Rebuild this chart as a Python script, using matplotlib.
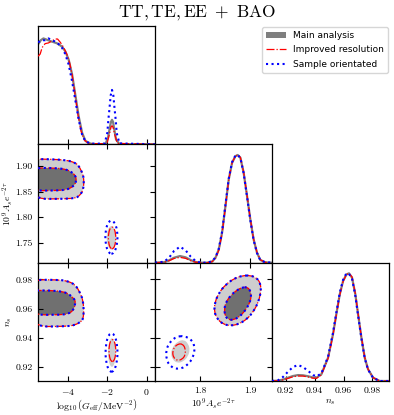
import matplotlib
matplotlib.use("Agg")
import matplotlib.pyplot as plt
from matplotlib.lines import Line2D
from matplotlib.patches import Patch, Ellipse, PathPatch
from matplotlib.path import Path

plt.rcParams['font.family'] = 'serif'
plt.rcParams['font.serif'] = ['cmr10']
plt.rcParams['mathtext.fontset'] = 'cm'
plt.rcParams['axes.formatter.use_mathtext'] = True

# ---------------- data ----------------
# 1D: log10(G_eff / MeV^-2)
g_grey_x = [-5.495, -5.357, -5.224, -5.051, -4.883, -4.541, -4.286, -4.117, -3.949, -3.776, -3.607,
            -3.439, -3.265, -3.097, -2.842, -2.5, -2.245, -2.077, -1.959, -1.857, -1.806, -1.755,
            -1.704, -1.653, -1.551, -1.398, -1.143, 0.42]
g_grey_y = [0.846, 0.88, 0.895, 0.884, 0.873, 0.854, 0.826, 0.785, 0.716, 0.592, 0.413,
            0.234, 0.096, 0.028, 0.006, 0.0, 0.002, 0.006, 0.055, 0.15, 0.19, 0.207,
            0.19, 0.138, 0.041, 0.006, 0.0, 0.0]
g_red_x = [-5.495, -5.39, -5.29, -5.14, -4.97, -4.80, -4.63, -4.51, -4.37, -4.2, -4.03, -3.9,
           -3.776, -3.64, -3.49, -3.32, -3.15, -2.93, -2.01, -1.89, -1.806, -1.755, -1.704,
           -1.62, -1.48, 0.42]
g_red_y = [0.744, 0.763, 0.818, 0.851, 0.857, 0.873, 0.89, 0.89, 0.862, 0.818, 0.758, 0.689,
           0.592, 0.44, 0.262, 0.11, 0.036, 0.006, 0.006, 0.083, 0.145, 0.157, 0.145,
           0.083, 0.008, 0.0]
g_blue_x = [-5.495, -5.31, -5.14, -4.97, -4.8, -4.54, -4.29, -4.12, -3.95, -3.78, -3.61, -3.44,
            -3.27, -3.1, -2.84, -2.13, -1.993, -1.94, -1.891, -1.823, -1.755, -1.687, -1.619,
            -1.568, -1.517, -1.38, 0.42]
g_blue_y = [0.862, 0.88, 0.88, 0.895, 0.88, 0.862, 0.818, 0.763, 0.675, 0.537, 0.372, 0.207,
            0.083, 0.025, 0.006, 0.006, 0.096, 0.207, 0.289, 0.413, 0.46, 0.413, 0.289,
            0.207, 0.096, 0.008, 0.0]

# 1D: 10^9 A_s e^{-2tau}
a_x = [1.711, 1.729, 1.7389, 1.7487, 1.7606, 1.7718, 1.7817, 1.7915, 1.8014, 1.8145, 1.8244,
       1.831, 1.8375, 1.844, 1.8507, 1.8572, 1.8639, 1.8704, 1.875, 1.8803, 1.8868, 1.8935,
       1.9, 1.9065, 1.9132, 1.9197, 1.9296, 1.943]
a_grey = [0.0, 0.004, 0.02, 0.042, 0.056, 0.045, 0.022, 0.006, 0.0, 0.0, 0.01, 0.042, 0.113,
          0.254, 0.479, 0.704, 0.845, 0.9, 0.91, 0.887, 0.76, 0.563, 0.366, 0.197, 0.085,
          0.023, 0.003, 0.0]
a_red = [0.0, 0.003, 0.016, 0.035, 0.045, 0.036, 0.017, 0.004, 0.0, 0.0, 0.008, 0.038, 0.105,
         0.245, 0.47, 0.7, 0.845, 0.9, 0.91, 0.89, 0.765, 0.57, 0.37, 0.2, 0.088, 0.025,
         0.003, 0.0]
a_blue = [0.0, 0.008, 0.042, 0.099, 0.135, 0.104, 0.051, 0.014, 0.0, 0.0, 0.012, 0.045, 0.118,
          0.262, 0.488, 0.71, 0.85, 0.905, 0.91, 0.885, 0.755, 0.558, 0.36, 0.192, 0.082,
          0.022, 0.003, 0.0]

# 1D: n_s
n_x = [0.9105, 0.9147, 0.9181, 0.9216, 0.925, 0.9285, 0.932, 0.9355, 0.9389, 0.9412, 0.9446,
       0.9493, 0.9527, 0.955, 0.9574, 0.9597, 0.962, 0.9638, 0.9659, 0.9682, 0.9701, 0.9724,
       0.9747, 0.977, 0.9805, 0.9851, 0.9915]
n_grey = [0.0, 0.003, 0.012, 0.028, 0.042, 0.05, 0.048, 0.04, 0.03, 0.028, 0.055, 0.197, 0.394,
          0.563, 0.732, 0.845, 0.9, 0.91, 0.873, 0.732, 0.563, 0.366, 0.197, 0.099, 0.028,
          0.0, 0.0]
n_red = [0.0, 0.002, 0.01, 0.022, 0.036, 0.042, 0.042, 0.034, 0.024, 0.022, 0.05, 0.19, 0.385,
         0.555, 0.725, 0.84, 0.9, 0.91, 0.88, 0.74, 0.57, 0.37, 0.2, 0.1, 0.028, 0.0, 0.0]
n_blue = [0.0, 0.006, 0.034, 0.079, 0.118, 0.135, 0.118, 0.085, 0.051, 0.039, 0.062, 0.205,
          0.405, 0.575, 0.745, 0.855, 0.91, 0.905, 0.865, 0.72, 0.553, 0.36, 0.192, 0.096,
          0.026, 0.0, 0.0]

# 2D: G_eff vs A_s (main region, 95% and 68%)
ga_outer_g = [-6.0, -4.9, -4.03, -3.6, -3.44, -3.27, -3.2, -3.18, -3.2, -3.27, -3.44, -3.6, -4.03, -6.0]
ga_outer_a = [1.914, 1.914, 1.912, 1.9065, 1.901, 1.888, 1.880, 1.869, 1.858, 1.849, 1.841, 1.838, 1.836, 1.836]
ga_inner_g = [-6.0, -4.54, -4.03, -3.78, -3.61, -3.56, -3.61, -3.78, -4.03, -4.54, -6.0]
ga_inner_a = [1.8967, 1.8967, 1.8934, 1.888, 1.8816, 1.8738, 1.8654, 1.859, 1.8542, 1.8523, 1.8523]
# small island: centre x, centre y, width, height
ga_isl_grey = [-1.786, 1.7597, 0.475, 0.0458]
ga_isl_red = [-1.752, 1.7594, 0.373, 0.0424]
ga_isl_blue = [-1.786, 1.761, 0.612, 0.065]

# 2D: G_eff vs n_s
gn_outer_g = [-6.0, -4.54, -4.03, -3.61, -3.36, -3.22, -3.18, -3.22, -3.32, -3.61, -4.03, -6.0]
gn_outer_n = [0.9798, 0.9798, 0.9791, 0.9764, 0.9707, 0.9655, 0.958, 0.953, 0.9512, 0.9489, 0.9478, 0.9478]
gn_inner_g = [-6.0, -4.88, -4.29, -3.95, -3.73, -3.63, -3.61, -3.69, -3.95, -4.29, -6.0]
gn_inner_n = [0.9725, 0.9725, 0.9718, 0.9702, 0.9673, 0.966, 0.9638, 0.9592, 0.9565, 0.9558, 0.9558]
gn_isl_grey = [-1.76, 0.930, 0.39, 0.0195]
gn_isl_red = [-1.737, 0.9313, 0.34, 0.0149]
gn_isl_blue = [-1.78, 0.930, 0.6, 0.0263]

# 2D: A_s vs n_s
an_outer_a = [1.9, 1.9132, 1.9203, 1.9211, 1.9164, 1.9065, 1.8935, 1.8769, 1.8606, 1.8462, 1.8343,
              1.8284, 1.8296, 1.8375, 1.8507, 1.8671, 1.8836]
an_outer_n = [0.9828, 0.981, 0.9771, 0.9718, 0.9649, 0.9581, 0.9529, 0.9494, 0.9483, 0.9494, 0.9529,
              0.9581, 0.9642, 0.9707, 0.9764, 0.9805, 0.9826]
an_inner_a = [1.8935, 1.9, 1.902, 1.8986, 1.8901, 1.8789, 1.8671, 1.8572, 1.8507, 1.8481, 1.8513,
              1.8606, 1.8724, 1.8836]
an_inner_n = [0.9748, 0.9725, 0.9684, 0.9638, 0.9588, 0.9546, 0.9524, 0.9524, 0.9546, 0.9592, 0.9642,
              0.9689, 0.9725, 0.9745]
an_isl_grey_a = [1.7684, 1.7771, 1.7803, 1.7763, 1.7673, 1.7554, 1.7462, 1.7422, 1.7456, 1.7554]
an_isl_grey_n = [0.9389, 0.9359, 0.9318, 0.9272, 0.9238, 0.9227, 0.925, 0.9291, 0.9336, 0.9375]
an_isl_red_a = [1.7653, 1.7712, 1.7712, 1.7653, 1.7554, 1.7475, 1.7456, 1.7501, 1.7574]
an_isl_red_n = [0.9359, 0.933, 0.9284, 0.9254, 0.9244, 0.9265, 0.9306, 0.934, 0.9359]
an_isl_blue_a = [1.7684, 1.785, 1.7901, 1.7869, 1.7751, 1.7586, 1.7422, 1.7337, 1.7329, 1.7408, 1.754]
an_isl_blue_n = [0.9414, 0.9387, 0.933, 0.9268, 0.921, 0.9185, 0.9199, 0.925, 0.9318, 0.9375, 0.9409]

labels = ['Main analysis', 'Improved resolution', 'Sample orientated']

# ---------------- styles ----------------
G_LIM = (-5.5, 0.42)
A_LIM = (1.711, 1.943)
N_LIM = (0.9105, 0.9915)
DARK = '#707070'
LIGHT = '#cecece'
GREY_LINE = '#7f7f7f'
RED = dict(color='red', lw=0.9, ls='-.')
BLUE = dict(color='blue', lw=1.5, ls=':')
TICK_FS = 7
LABEL_FS = 7


def smooth_path(xs, ys):
    # closed quadratic path through the read vertices
    n = len(xs)
    pts = list(zip(xs, ys))
    mids = [((pts[i][0] + pts[(i + 1) % n][0]) / 2, (pts[i][1] + pts[(i + 1) % n][1]) / 2)
            for i in range(n)]
    verts = [mids[-1]]
    codes = [Path.MOVETO]
    for i in range(n):
        verts += [pts[i], mids[i]]
        codes += [Path.CURVE3, Path.CURVE3]
    return Path(verts, codes)


def fill_shape(ax, xs, ys, color):
    ax.add_patch(PathPatch(smooth_path(xs, ys), facecolor=color, edgecolor='none', zorder=1))


def line_shape(ax, xs, ys, style, z):
    ax.add_patch(PathPatch(smooth_path(xs, ys), facecolor='none', edgecolor=style['color'],
                           lw=style['lw'], ls=style['ls'], zorder=z))


def ellipse(ax, p, face=None, style=None, z=1):
    if style is None:
        e = Ellipse((p[0], p[1]), p[2], p[3], facecolor=face, edgecolor='none', zorder=z)
    else:
        e = Ellipse((p[0], p[1]), p[2], p[3], facecolor='none', edgecolor=style['color'],
                    lw=style['lw'], ls=style['ls'], zorder=z)
    ax.add_patch(e)


fig, axes = plt.subplots(3, 3, figsize=(3.94, 4.15), dpi=100)
fig.subplots_adjust(left=38 / 394, right=389 / 394, top=1 - 26 / 415, bottom=1 - 381 / 415,
                    wspace=0, hspace=0)

for i in range(3):
    for j in range(3):
        if j > i:
            axes[i, j].axis('off')

# 1D panels
for ax, curves in [
        (axes[0, 0], [(g_grey_x, g_grey_y), (g_red_x, g_red_y), (g_blue_x, g_blue_y)]),
        (axes[1, 1], [(a_x, a_grey), (a_x, a_red), (a_x, a_blue)]),
        (axes[2, 2], [(n_x, n_grey), (n_x, n_red), (n_x, n_blue)])]:
    ax.plot(curves[0][0], curves[0][1], color=GREY_LINE, lw=1.6, zorder=2)
    ax.plot(curves[1][0], curves[1][1], zorder=3, **RED)
    ax.plot(curves[2][0], curves[2][1], zorder=4, **BLUE)
    ax.set_ylim(0, 1)
    ax.set_yticks([])
    ax.tick_params(direction='in', length=3.5, width=0.8, top=False, right=False)

# G_eff vs A_s
ax = axes[1, 0]
fill_shape(ax, ga_outer_g, ga_outer_a, LIGHT)
fill_shape(ax, ga_inner_g, ga_inner_a, DARK)
ellipse(ax, ga_isl_grey, face=LIGHT)
for xs, ys in [(ga_outer_g, ga_outer_a), (ga_inner_g, ga_inner_a)]:
    line_shape(ax, xs, ys, RED, 3)
    line_shape(ax, xs, ys, BLUE, 4)
ellipse(ax, ga_isl_red, style=RED, z=3)
ellipse(ax, ga_isl_blue, style=BLUE, z=4)

# G_eff vs n_s
ax = axes[2, 0]
fill_shape(ax, gn_outer_g, gn_outer_n, LIGHT)
fill_shape(ax, gn_inner_g, gn_inner_n, DARK)
ellipse(ax, gn_isl_grey, face=LIGHT)
for xs, ys in [(gn_outer_g, gn_outer_n), (gn_inner_g, gn_inner_n)]:
    line_shape(ax, xs, ys, RED, 3)
    line_shape(ax, xs, ys, BLUE, 4)
ellipse(ax, gn_isl_red, style=RED, z=3)
ellipse(ax, gn_isl_blue, style=BLUE, z=4)

# A_s vs n_s
ax = axes[2, 1]
fill_shape(ax, an_outer_a, an_outer_n, LIGHT)
fill_shape(ax, an_inner_a, an_inner_n, DARK)
fill_shape(ax, an_isl_grey_a, an_isl_grey_n, LIGHT)
for xs, ys in [(an_outer_a, an_outer_n), (an_inner_a, an_inner_n)]:
    line_shape(ax, xs, ys, RED, 3)
    line_shape(ax, xs, ys, BLUE, 4)
line_shape(ax, an_isl_red_a, an_isl_red_n, RED, 3)
line_shape(ax, an_isl_blue_a, an_isl_blue_n, BLUE, 4)

for ax in [axes[1, 0], axes[2, 0], axes[2, 1]]:
    ax.tick_params(direction='in', length=3.5, width=0.8, top=True, right=True)

# limits and ticks
for i in range(3):
    axes[i, 0].set_xlim(G_LIM)
    axes[i, 0].set_xticks([-4, -2, 0])
for i in range(1, 3):
    axes[i, 1].set_xlim(A_LIM)
    axes[i, 1].set_xticks([1.8, 1.9])
axes[2, 2].set_xlim(N_LIM)
axes[2, 2].set_xticks([0.92, 0.94, 0.96, 0.98])
axes[1, 0].set_ylim(A_LIM)
axes[1, 0].set_yticks([1.75, 1.80, 1.85, 1.90])
axes[1, 0].set_yticklabels(['1.75', '1.80', '1.85', '1.90'])
for j in range(2):
    axes[2, j].set_ylim(N_LIM)
    axes[2, j].set_yticks([0.92, 0.94, 0.96, 0.98])
axes[2, 0].set_yticklabels(['0.92', '0.94', '0.96', '0.98'])
axes[2, 1].set_xticklabels(['1.8', '1.9'])
axes[2, 2].set_xticklabels(['0.92', '0.94', '0.96', '0.98'])

for i in range(3):
    for j in range(i + 1):
        ax = axes[i, j]
        ax.tick_params(labelsize=TICK_FS, pad=4)
        for s in ax.spines.values():
            s.set_linewidth(0.9)
        if i < 2:
            ax.tick_params(labelbottom=False)
        if j > 0:
            ax.tick_params(labelleft=False)

axes[2, 0].set_xlabel(r'$\log_{10}\left(G_{\rm eff}/{\rm MeV}^{-2}\right)$', fontsize=LABEL_FS)
axes[2, 1].set_xlabel(r'$10^9 A_s e^{-2\tau}$', fontsize=LABEL_FS)
axes[2, 2].set_xlabel(r'$n_s$', fontsize=LABEL_FS)
for j in range(3):
    axes[2, j].xaxis.set_label_coords(0.5, -0.135)
axes[1, 0].set_ylabel(r'$10^9 A_s e^{-2\tau}$', fontsize=LABEL_FS)
axes[2, 0].set_ylabel(r'$n_s$', fontsize=LABEL_FS)
axes[1, 0].yaxis.set_label_coords(-0.19, 0.5)
axes[2, 0].yaxis.set_label_coords(-0.205, 0.5)

fig.suptitle(r'$\mathrm{TT, TE, EE}\ +\ \mathrm{BAO}$', fontsize=12.5, y=1 - 13 / 415, va='center')

handles = [Patch(facecolor=GREY_LINE, edgecolor='none'),
           Line2D([], [], **RED),
           Line2D([], [], **BLUE)]
fig.legend(handles, labels, loc='upper right', bbox_to_anchor=(388 / 394, 1 - 27 / 415),
           prop={'family': 'DejaVu Sans', 'size': 6.5}, handlelength=2.2, borderaxespad=0,
           labelspacing=0.6, handletextpad=0.8, borderpad=0.45)

fig.savefig('out.png', dpi=100)
